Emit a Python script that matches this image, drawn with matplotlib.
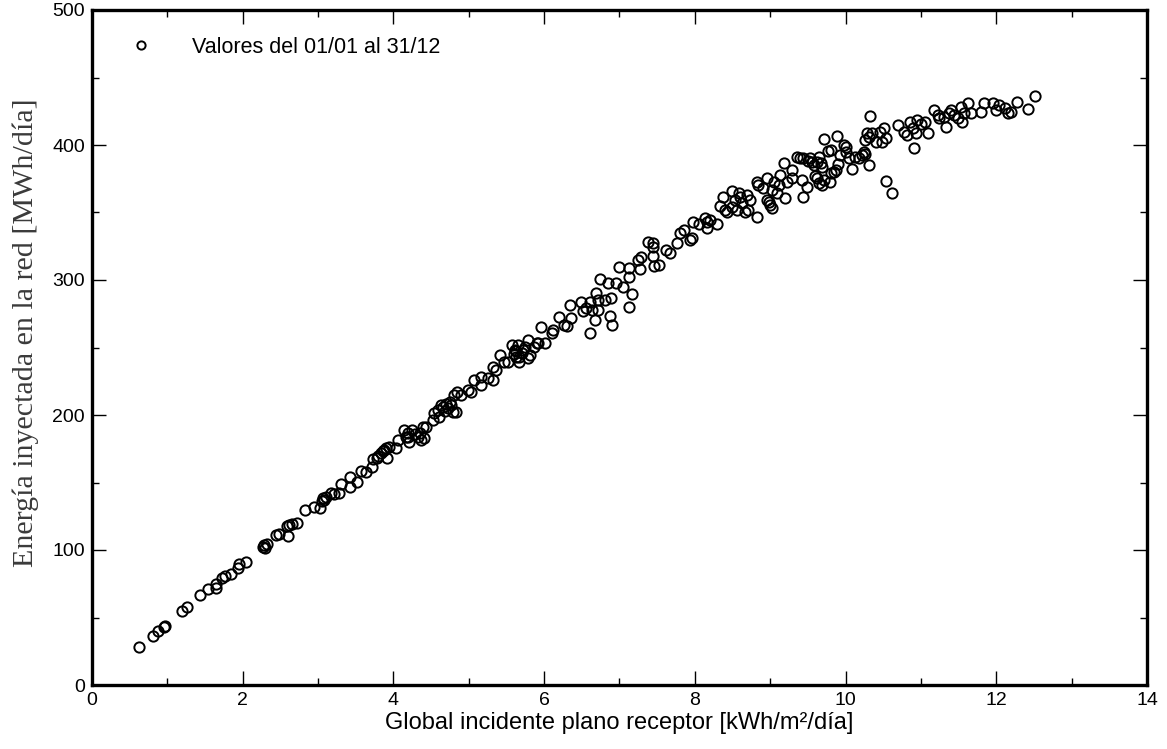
import matplotlib
matplotlib.use("Agg")
import matplotlib.pyplot as plt
from matplotlib.ticker import MultipleLocator

# ====== datos ======
# Global incidente plano receptor [kWh/m²/día]
irr = [
    0.63, 0.81, 0.87, 0.95, 0.97, 1.19, 1.26, 1.43, 1.54, 1.64, 1.65, 1.73, 1.77,
    1.84, 1.94, 1.95, 2.05, 2.27, 2.28, 2.32, 2.30, 2.44, 2.48, 2.60, 2.59, 2.62,
    2.66, 2.72, 2.83, 2.94, 3.03, 3.05, 3.06, 3.08, 3.10, 3.17, 3.21, 3.28, 3.30,
    3.42, 3.42, 3.52, 3.57, 3.63, 3.72, 3.73, 3.78, 3.80, 3.83, 3.86, 3.88, 3.92,
    # 3.9 - 5.75
    3.90, 3.94, 4.03, 4.14, 4.19, 4.25, 4.32, 4.37, 4.41, 4.39, 4.43, 4.20, 4.28,
    4.35, 4.06, 4.17, 4.21, 4.52, 4.54, 4.59, 4.63, 4.61, 4.72, 4.76, 4.79, 4.83,
    4.81, 4.85, 4.90, 4.99, 5.03, 5.07, 5.16, 5.16, 5.25, 5.32, 5.32, 5.36, 5.41,
    5.47, 5.52, 5.58, 5.61, 5.65, 5.63, 5.70, 5.67, 5.74, 4.66, 4.70, 4.75, 4.68,
    5.60, 5.62, 5.66, 5.72,
    # 5.75 - 7.9
    5.78, 5.78, 5.81, 5.87, 5.90, 5.92, 6.01, 5.96, 6.10, 6.12, 6.20, 6.27, 6.30,
    6.34, 6.35, 6.49, 6.52, 6.56, 6.61, 6.63, 6.61, 6.67, 6.69, 6.71, 6.72, 6.74,
    6.81, 6.85, 6.89, 6.88, 6.90, 6.96, 7.00, 7.04, 7.12, 7.12, 7.12, 7.17, 7.24,
    7.27, 7.28, 7.38, 7.44, 7.45, 7.46, 7.53, 7.45, 7.62, 7.67, 7.76, 7.80, 7.85,
    # 7.9 - 9.45
    7.94, 7.96, 7.98, 8.05, 8.13, 8.16, 8.20, 8.16, 8.29, 8.34, 8.38, 8.40, 8.42,
    8.49, 8.49, 8.53, 8.56, 8.58, 8.60, 8.62, 8.67, 8.69, 8.71, 8.73, 8.82, 8.82,
    8.84, 8.91, 8.96, 8.96, 8.98, 9.00, 9.02, 9.02, 9.05, 9.09, 9.11, 9.13, 9.20,
    9.22, 9.29, 9.29, 9.18, 9.42, 9.44,
    # 9.35 - 10.2
    9.35, 9.40, 9.44, 9.50, 9.53, 9.56, 9.58, 9.62, 9.65, 9.68, 9.69, 9.72, 9.77,
    9.81, 9.89, 9.90, 9.93, 9.98, 10.01, 10.00, 10.04, 10.09, 9.49, 9.60, 9.62,
    9.65, 9.69, 9.71, 9.79, 9.80, 9.84, 9.87, 10.13, 10.18,
    # > 10.2
    10.22, 10.24, 10.26, 10.31, 10.33, 10.29, 10.31, 10.35, 10.26, 10.40, 10.46,
    10.51, 10.49, 10.53, 10.54, 10.62, 10.70, 10.77, 10.82, 10.86, 10.89, 10.93,
    10.95, 11.00, 11.06, 10.91, 11.09, 11.17, 11.22, 11.24, 11.31, 11.33, 11.37,
    11.40, 11.44, 11.49, 11.53, 11.55, 11.57, 11.62, 11.66, 11.80, 11.84, 11.95,
    11.99, 12.04, 12.11, 12.15, 12.19, 12.28, 12.42, 12.51,
]

# Energía inyectada en la red [MWh/día]
energia = [
    27.9, 36.5, 40.0, 42.7, 43.5, 55.0, 57.5, 66.7, 71.0, 74.6, 72.0, 79.5, 80.7,
    82.0, 86.4, 89.4, 90.9, 102.0, 103.7, 104.4, 101.5, 111.0, 111.8, 110.4, 117.8, 118.5,
    119.3, 119.8, 129.6, 131.6, 130.9, 136.0, 138.3, 137.0, 139.5, 142.4, 141.3, 142.4, 148.9,
    153.8, 146.9, 150.6, 158.7, 158.0, 161.7, 167.2, 168.0, 170.0, 171.6, 173.0, 174.0, 167.9,
    175.3, 176.5, 175.3, 188.9, 186.4, 188.9, 183.9, 181.5, 182.7, 191.4, 191.4, 184.0, 186.0,
    187.0, 181.5, 183.9, 180.2, 196.3, 201.2, 203.7, 207.4, 198.8, 205.0, 207.4, 202.5, 202.5,
    214.8, 217.3, 214.8, 218.5, 217.3, 225.9, 228.4, 222.2, 227.2, 225.9, 235.8, 233.3, 244.4,
    239.5, 239.5, 251.9, 248.0, 251.9, 243.2, 245.7, 239.5, 250.6, 206.0, 208.5, 210.0, 203.0,
    245.0, 247.5, 243.0, 248.0,
    255.6, 242.0, 244.4, 250.6, 253.1, 253.1, 253.1, 265.4, 260.5, 263.0, 272.6, 266.7, 265.9,
    281.5, 271.6, 283.9, 277.3, 279.0, 283.9, 277.8, 260.5, 270.4, 290.1, 285.2, 277.8, 300.5,
    285.2, 297.5, 286.4, 273.3, 266.7, 297.5, 309.9, 294.6, 280.2, 302.4, 308.6, 289.4, 314.8,
    307.9, 316.8, 328.4, 327.2, 317.8, 310.4, 311.1, 324.7, 322.2, 320.2, 327.6, 334.6, 337.0,
    329.6, 330.9, 343.2, 341.5, 345.7, 343.2, 344.4, 338.3, 341.5, 354.8, 361.7, 351.9, 350.6,
    354.3, 366.1, 359.3, 351.9, 364.2, 361.7, 356.8, 350.6, 363.0, 351.9, 359.3, 346.9, 372.8,
    370.4, 367.9, 375.3, 359.3, 358.0, 355.6, 353.1, 366.7, 372.8, 364.2, 370.4, 377.8, 360.5,
    372.8, 375.3, 381.5, 386.4, 374.1, 361.7,
    391.4, 390.1, 390.1, 388.4, 390.1, 387.6, 385.2, 387.6, 391.4, 386.4, 383.9, 404.2, 395.6,
    396.3, 406.7, 385.9, 392.6, 400.0, 398.8, 395.0, 390.1, 382.2, 369.1, 377.0, 375.3,
    371.6, 370.4, 374.1, 372.8, 379.0, 380.2, 381.5, 391.4, 390.1,
    392.6, 394.6, 393.3, 385.2, 421.7, 408.6, 406.1, 408.6, 403.7, 402.4, 409.9,
    412.3, 402.4, 404.9, 373.5, 364.2, 414.8, 409.9, 407.4, 417.3, 412.3, 408.6,
    418.5, 415.6, 417.3, 398.0, 409.1, 425.9, 422.2, 419.8, 421.0, 413.6, 423.5,
    425.9, 422.2, 419.8, 428.4, 417.3, 423.5, 430.9, 424.0, 424.7, 430.9, 430.9,
    425.9, 429.6, 427.2, 423.5, 424.7, 432.1, 426.7, 436.3,
]

# ====== figura ======
fig = plt.figure(figsize=(11.67, 7.49), dpi=100)
ax = fig.add_axes([92 / 1167, 1 - 685 / 749, (1147 - 92) / 1167, (685 - 10) / 749])

ax.plot(irr, energia, linestyle="none", marker="o", markersize=7.4,
        markerfacecolor="none", markeredgecolor="black", markeredgewidth=1.4,
        label="Valores del 01/01 al 31/12", clip_on=False)

ax.set_xlim(0, 14)
ax.set_ylim(0, 500)
ax.xaxis.set_major_locator(MultipleLocator(2))
ax.xaxis.set_minor_locator(MultipleLocator(1))
ax.yaxis.set_major_locator(MultipleLocator(100))
ax.yaxis.set_minor_locator(MultipleLocator(50))

ax.tick_params(which="both", direction="in", top=True, right=True,
               width=1.0, labelsize=14, labelfontfamily="Liberation Sans")
ax.tick_params(which="major", length=10, pad=5)
ax.tick_params(which="minor", length=5)
for sp in ax.spines.values():
    sp.set_linewidth(2.4)

ax.set_xlabel("Global incidente plano receptor [kWh/m²/día]",
              fontsize=17, family="Liberation Sans", labelpad=2)
ax.set_ylabel("Energía inyectada en la red [MWh/día]",
              fontsize=21.6, family="Liberation Serif", color="#3a3a3a")
ax.yaxis.set_label_coords(-0.050, 0.522)

ax.legend(loc="center left", bbox_to_anchor=(0.036, 0.945), frameon=False,
          prop={"family": "Liberation Sans", "size": 15.5},
          handlelength=1.0, handletextpad=1.9, borderpad=0, borderaxespad=0,
          markerscale=0.8)

fig.savefig("out.png", dpi=100, facecolor="white")
plt.close(fig)
